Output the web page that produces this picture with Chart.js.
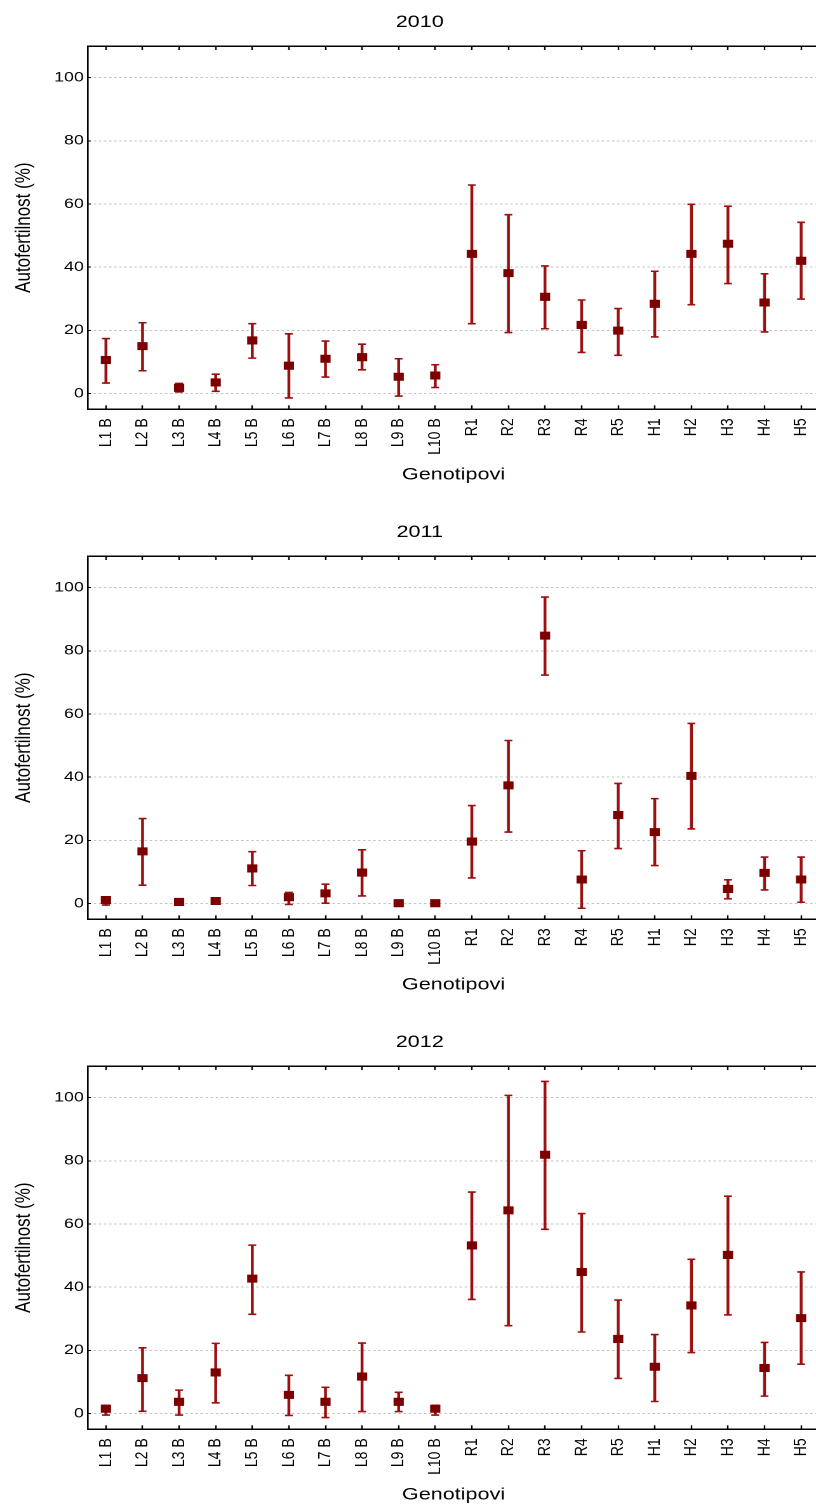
<!DOCTYPE html>
<html lang="sr">
<head>
    <meta charset="UTF-8">
    <title>Autofertilnost 2010-2012</title>
    <script src="https://cdn.jsdelivr.net/npm/chart.js"></script>
    <style>
        html, body {
            margin: 0;
            padding: 0;
            background: #fff;
            overflow: hidden;
        }
        /* the original figure is stretched sideways, so each panel is drawn narrow and widened */
        .panel {
            width: 661px;
            height: 510px;
            transform: scaleX(1.27);
            transform-origin: 0 0;
        }
    </style>
</head>
<body>
    <div class="panel"><canvas id="c2010"></canvas></div>
    <div class="panel"><canvas id="c2011"></canvas></div>
    <div class="panel"><canvas id="c2012"></canvas></div>

    <script>
        const genotypes = ['L1 B', 'L2 B', 'L3 B', 'L4 B', 'L5 B', 'L6 B', 'L7 B', 'L8 B', 'L9 B', 'L10 B',
                           'R1', 'R2', 'R3', 'R4', 'R5', 'H1', 'H2', 'H3', 'H4', 'H5'];
        const yTicks = [0, 20, 40, 60, 80, 100];

        // 2010
        const mean2010 = [10.6, 15.0, 1.8, 3.5, 16.8, 8.8, 11.0, 11.5, 5.3, 5.7, 44.2, 38.1, 30.6, 21.7, 19.9, 28.4, 44.2, 47.4, 28.8, 42.0];
        const low2010  = [3.3, 7.2, 0.5, 0.7, 11.2, -1.4, 5.2, 7.5, -0.8, 1.9, 22.1, 19.3, 20.5, 13.0, 12.1, 17.9, 28.1, 34.8, 19.5, 29.9];
        const high2010 = [17.4, 22.4, 3.2, 6.1, 22.1, 18.9, 16.6, 15.6, 11.0, 9.1, 66.0, 56.6, 40.4, 29.6, 26.9, 38.7, 59.9, 59.3, 37.9, 54.2];

        // 2011
        const mean2011 = [1.1, 16.5, 0.5, 0.8, 11.1, 2.0, 3.2, 9.8, 0.1, 0.1, 19.6, 37.4, 84.8, 7.6, 28.0, 22.6, 40.4, 4.6, 9.7, 7.6];
        const low2011  = [-0.5, 5.8, 0.2, 0.0, 5.7, -0.3, 0.1, 2.4, 0.1, 0.1, 8.1, 22.6, 72.3, -1.5, 17.4, 12.0, 23.6, 1.5, 4.3, 0.4];
        const high2011 = [2.1, 26.9, 0.8, 1.6, 16.4, 3.5, 6.1, 17.0, 0.1, 0.1, 31.0, 51.6, 97.0, 16.7, 38.0, 33.2, 57.0, 7.5, 14.7, 14.7];

        // 2012
        const mean2012 = [1.5, 11.2, 3.7, 13.0, 42.7, 5.9, 3.7, 11.7, 3.7, 1.5, 53.2, 64.3, 81.9, 44.8, 23.6, 14.8, 34.2, 50.2, 14.4, 30.2];
        const low2012  = [-0.5, 0.7, -0.5, 3.4, 31.4, -0.6, -1.3, 0.6, 0.6, -0.5, 36.1, 27.8, 58.3, 25.8, 11.1, 3.8, 19.3, 31.2, 5.5, 15.6];
        const high2012 = [2.6, 20.8, 7.4, 22.2, 53.3, 12.1, 8.3, 22.3, 6.7, 2.6, 70.1, 100.7, 105.1, 63.3, 35.9, 25.0, 48.8, 68.8, 22.5, 44.8];

        const markerColor = '#7d0000';
        const barColor = '#9b1010';

        Chart.defaults.font.family = '"Liberation Sans", Arial, sans-serif';
        Chart.defaults.color = '#000';

        function makePanel(id, year, means, lows, highs) {
            const errBars = genotypes.map((g, i) => [lows[i], highs[i]]);

            new Chart(document.getElementById(id), {
                type: 'bar',
                data: {
                    labels: genotypes,
                    datasets: [
                        {
                            type: 'line',
                            data: means,
                            showLine: false,
                            pointStyle: 'rect',
                            pointRadius: 5,
                            pointBorderWidth: 1,
                            pointBackgroundColor: markerColor,
                            pointBorderColor: markerColor,
                            order: 0
                        },
                        {
                            type: 'line',
                            data: highs,
                            showLine: false,
                            pointStyle: 'line',
                            pointRadius: 3.1,
                            pointBorderWidth: 1.6,
                            pointBorderColor: barColor,
                            order: 1
                        },
                        {
                            type: 'line',
                            data: lows,
                            showLine: false,
                            pointStyle: 'line',
                            pointRadius: 3.1,
                            pointBorderWidth: 1.6,
                            pointBorderColor: barColor,
                            order: 1
                        },
                        {
                            type: 'bar',
                            data: errBars,
                            barThickness: 1.6,
                            backgroundColor: barColor,
                            borderWidth: 0,
                            order: 2
                        }
                    ]
                },
                options: {
                    responsive: true,
                    maintainAspectRatio: false,
                    devicePixelRatio: 2,
                    animation: false,
                    layout: { padding: 0 },
                    plugins: {
                        legend: { display: false },
                        tooltip: { enabled: false },
                        title: {
                            display: true,
                            text: year,
                            color: '#000',
                            font: { size: 17, weight: 'normal' },
                            padding: { top: 12, bottom: 13.6 }
                        }
                    },
                    scales: {
                        x: {
                            type: 'category',
                            position: 'bottom',
                            offset: true,
                            grid: {
                                offset: false,
                                drawOnChartArea: false,
                                tickLength: -4,
                                tickColor: '#000',
                                tickWidth: 1.2
                            },
                            border: { color: '#000', width: 1.5 },
                            ticks: {
                                autoSkip: false,
                                minRotation: 90,
                                maxRotation: 90,
                                padding: 13,
                                font: { size: 14 }
                            },
                            title: {
                                display: true,
                                text: 'Genotipovi',
                                font: { size: 17 },
                                padding: { top: 0, bottom: 24.8 }
                            },
                            afterFit: (s) => { s.height = 100.7; }
                        },
                        x2: {
                            type: 'category',
                            position: 'top',
                            labels: genotypes,
                            offset: true,
                            grid: {
                                offset: false,
                                drawOnChartArea: false,
                                tickLength: -4,
                                tickColor: '#000',
                                tickWidth: 1.2
                            },
                            border: { color: '#000', width: 1.5 },
                            ticks: { display: false },
                            afterFit: (s) => { s.height = 0; }
                        },
                        y: {
                            type: 'linear',
                            position: 'left',
                            min: -5,
                            max: 110,
                            afterBuildTicks: (s) => { s.ticks = yTicks.map(v => ({ value: v })); },
                            grid: {
                                color: '#c4c4c4',
                                lineWidth: 1,
                                tickLength: -2.5,
                                tickColor: '#000',
                                tickWidth: 1,
                                tickBorderDash: []
                            },
                            border: { color: '#000', width: 1.3, dash: [2, 2] },
                            ticks: {
                                padding: 5.5,
                                font: { size: 14 }
                            },
                            title: {
                                display: true,
                                text: 'Autofertilnost (%)',
                                font: { size: 17 },
                                padding: { top: 8.5, bottom: 0 }
                            },
                            afterFit: (s) => { s.width = 69; }
                        },
                        y2: {
                            type: 'linear',
                            position: 'right',
                            min: -5,
                            max: 110,
                            grid: { drawOnChartArea: false, drawTicks: false },
                            border: { color: '#000', width: 1.3 },
                            ticks: { display: false },
                            afterFit: (s) => { s.width = 11.4; }
                        }
                    }
                }
            });
        }

        makePanel('c2010', '2010', mean2010, low2010, high2010);
        makePanel('c2011', '2011', mean2011, low2011, high2011);
        makePanel('c2012', '2012', mean2012, low2012, high2012);
    </script>
</body>
</html>
